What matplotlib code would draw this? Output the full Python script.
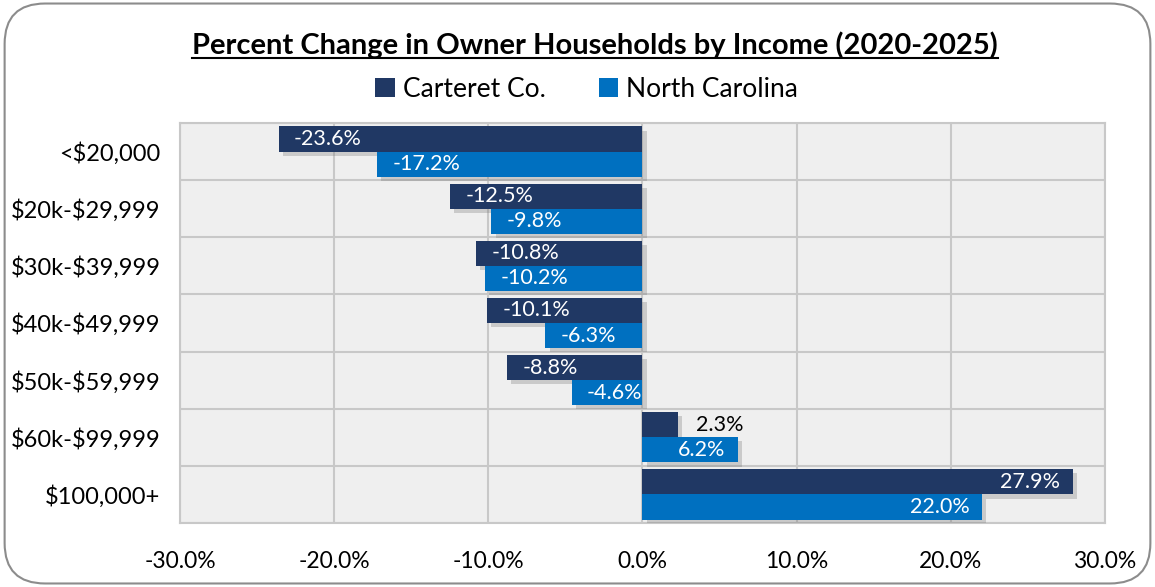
import numpy as np
import matplotlib
matplotlib.use('Agg')
import matplotlib.pyplot as plt
import matplotlib.patheffects as pe
from matplotlib.patches import FancyBboxPatch, Patch
from matplotlib.lines import Line2D
from matplotlib.ticker import FuncFormatter

categories = ["<$20,000", "$20k-$29,999", "$30k-$39,999", "$40k-$49,999",
              "$50k-$59,999", "$60k-$99,999", "$100,000+"]
carteret = [-23.6, -12.5, -10.8, -10.1, -8.8, 2.3, 27.9]
north_carolina = [-17.2, -9.8, -10.2, -6.3, -4.6, 6.2, 22.0]
series_names = ["Carteret Co.", "North Carolina"]
colors = ["#203864", "#0070c0"]

plt.rcParams['font.family'] = ['Lato', 'DejaVu Sans']
plt.rcParams['text.parse_math'] = False

fig = plt.figure(figsize=(11.55, 5.87), dpi=100)
fig.patch.set_facecolor('white')
frame = FancyBboxPatch((0.004, 0.006), 0.992, 0.988, boxstyle="round,pad=0,rounding_size=0.035",
                       transform=fig.transFigure, facecolor='none', edgecolor='#8c8c8c',
                       linewidth=1.5, mutation_aspect=1155/587, zorder=-1)
fig.patches.append(frame)

ax = fig.add_axes([0.1558, 0.109, 0.8009, 0.6815])
ax.set_facecolor('#efefef')

y = np.arange(len(categories))
h = 0.44
shadow = [pe.SimplePatchShadow(offset=(3, -3), shadow_rgbFace='#777777', alpha=0.3), pe.Normal()]

for vals, off, col in [(carteret, -h / 2, colors[0]), (north_carolina, h / 2, colors[1])]:
    bars = ax.barh(y + off, vals, height=h, color=col, zorder=3)
    for b in bars:
        b.set_path_effects(shadow)
    for yi, v in zip(y + off, vals):
        txt = f"{v:.1f}%"
        if abs(v) < 4:
            ax.text(v + 1.2, yi, txt, ha='left', va='center', color='black', fontsize=15.5, zorder=5)
        elif v < 0:
            ax.text(v + 1.0, yi, txt, ha='left', va='center', color='white', fontsize=15.5, zorder=5)
        else:
            ax.text(v - 0.8, yi, txt, ha='right', va='center', color='white', fontsize=15.5, zorder=5)

ax.set_xlim(-30, 30)
ax.set_ylim(len(categories) - 0.5, -0.5)
ax.set_xticks(np.arange(-30, 31, 10))
ax.xaxis.set_major_formatter(FuncFormatter(lambda v, p: f"{v:.1f}%"))
ax.set_yticks(y)
ax.set_yticklabels(categories)
ax.set_yticks(np.arange(-0.5, len(categories), 1), minor=True)
ax.tick_params(axis='x', length=0, pad=20, labelsize=16.5)
ax.tick_params(axis='y', which='both', length=0, pad=14, labelsize=17)
ax.grid(axis='x', which='major', color='#c8c8c8', linewidth=1.5, zorder=0)
ax.grid(axis='y', which='minor', color='#c8c8c8', linewidth=1.5, zorder=0)
ax.grid(axis='y', which='major', visible=False)
for s in ax.spines.values():
    s.set_color('#c8c8c8')
    s.set_linewidth(1.5)

title = fig.text(0.515, 0.923, "Percent Change in Owner Households by Income (2020-2025)",
                 ha='center', va='center', fontsize=21, fontweight='bold')

handles = [Patch(facecolor=c, edgecolor='none') for c in colors]
fig.legend(handles, series_names, loc='center', bbox_to_anchor=(0.508, 0.848), ncol=2,
           frameon=False, fontsize=19, handlelength=0.75, handleheight=0.75,
           handletextpad=0.3, columnspacing=2.0)

fig.canvas.draw()
bb = title.get_window_extent().transformed(fig.transFigure.inverted())
fig.add_artist(Line2D([bb.x0, bb.x1], [bb.y0 + 0.002, bb.y0 + 0.002], transform=fig.transFigure,
                      color='black', linewidth=1.5))

fig.savefig("out.png", dpi=100, facecolor='white')
